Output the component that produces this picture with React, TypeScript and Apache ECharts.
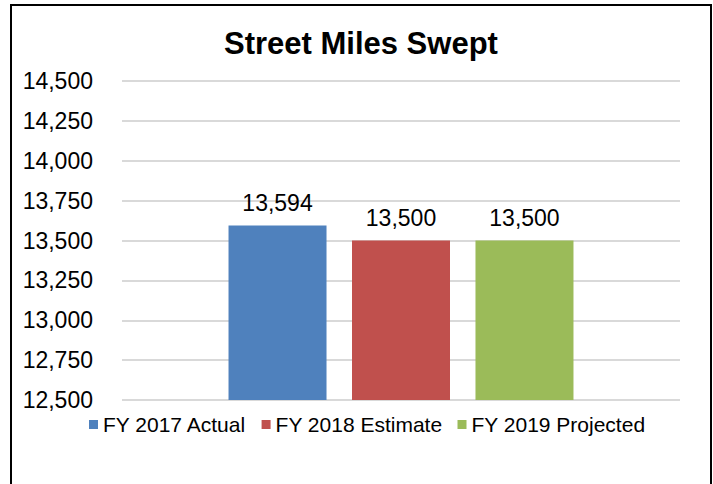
import React, { useEffect, useRef } from "react";
import * as echarts from "echarts";

const seriesNames = ["FY 2017 Actual", "FY 2018 Estimate", "FY 2019 Projected"];
const seriesValues = [13594, 13500, 13500];
const seriesColors = ["#4F81BD", "#C0504D", "#9BBB59"];
const categories = ["Street Miles Swept"];
const yMin = 12500;
const yMax = 14500;
const yStep = 250;

const fmt = (v: number) => v.toLocaleString("en-US");

export default function App() {
  const ref = useRef<HTMLDivElement>(null);
  useEffect(() => {
    if (!ref.current) return;
    const chart = echarts.init(ref.current, null, { renderer: "svg" });
    const font = "Liberation Sans, Arial, sans-serif";
    chart.setOption({
      animation: false,
      backgroundColor: "#ffffff",
      textStyle: { fontFamily: font },
      title: {
        text: "Street Miles Swept",
        left: 224,
        top: 28,
        padding: 0,
        textStyle: { fontSize: 31, fontWeight: "bold", color: "#000", fontFamily: font },
      },
      graphic: [
        {
          type: "rect",
          shape: { x: 11, y: 5, width: 700, height: 520 },
          style: { fill: "none", stroke: "#000", lineWidth: 2 },
          silent: true,
        },
      ],
      legend: {
        top: 409,
        left: 84,
        itemWidth: 9,
        itemHeight: 9,
        itemGap: 15,
        icon: "rect",
        textStyle: { fontSize: 21, color: "#000", fontFamily: font },
        data: seriesNames,
      },
      grid: { left: 122, right: 33, top: 81, bottom: 84, containLabel: false },
      xAxis: {
        type: "category",
        data: categories,
        axisLine: { show: false },
        axisTick: { show: false },
        axisLabel: { show: false },
      },
      yAxis: {
        type: "value",
        min: yMin,
        max: yMax,
        interval: yStep,
        axisLine: { show: false },
        axisTick: { show: false },
        axisLabel: {
          fontSize: 23,
          color: "#000",
          fontFamily: font,
          margin: 29,
          formatter: (v: number) => fmt(v),
        },
        splitLine: { lineStyle: { color: "#D9D9D9", width: 2 } },
      },
      series: seriesNames.map((name, i) => ({
        name,
        type: "bar",
        data: [seriesValues[i]],
        barWidth: 98,
        barGap: "26%",
        itemStyle: { color: seriesColors[i] },
        label: {
          show: true,
          position: "top",
          distance: 11,
          fontSize: 23,
          color: "#000",
          fontFamily: font,
          formatter: (p: any) => fmt(p.value),
        },
      })),
    });
    return () => chart.dispose();
  }, []);
  return (
    <div
      ref={ref}
      style={{ position: "fixed", left: 0, top: 0, width: 713, height: 484 }}
    />
  );
}
